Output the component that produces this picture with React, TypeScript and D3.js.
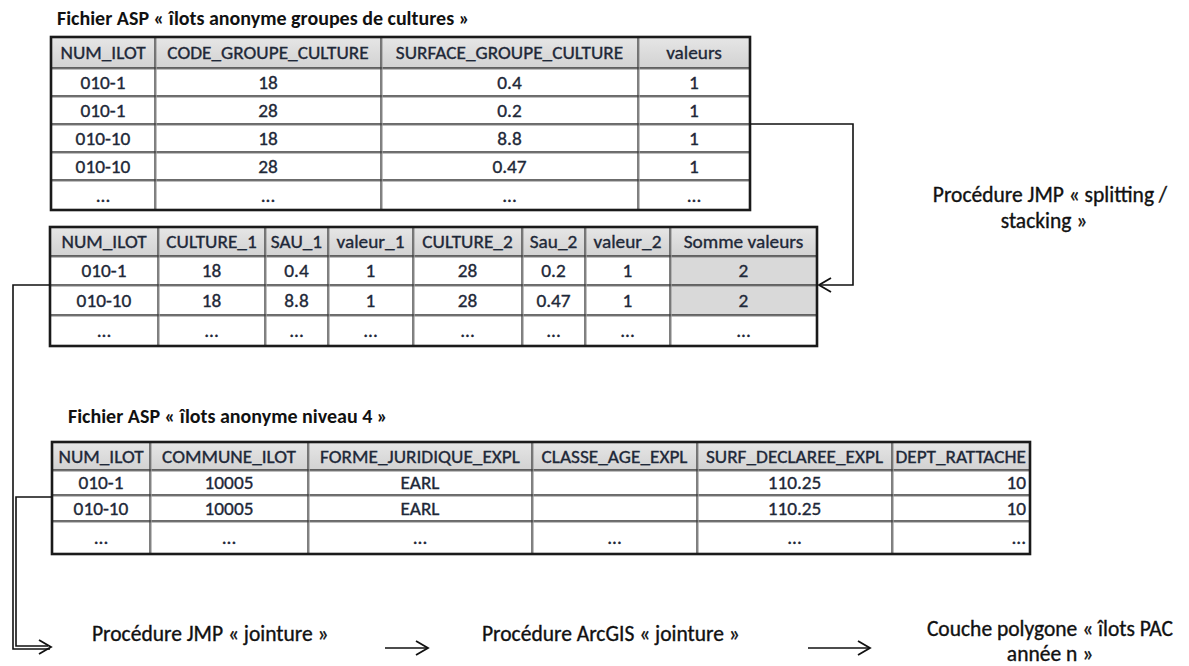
import React from "react";
import * as d3 from "d3";

// ---------- data ----------
const title1 = "Fichier ASP « îlots anonyme groupes de cultures »";
const header1 = ["NUM_ILOT", "CODE_GROUPE_CULTURE", "SURFACE_GROUPE_CULTURE", "valeurs"];
const rows1 = [
  ["010-1", "18", "0.4", "1"],
  ["010-1", "28", "0.2", "1"],
  ["010-10", "18", "8.8", "1"],
  ["010-10", "28", "0.47", "1"],
  ["...", "...", "...", "..."],
];

const header2 = ["NUM_ILOT", "CULTURE_1", "SAU_1", "valeur_1", "CULTURE_2", "Sau_2", "valeur_2", "Somme valeurs"];
const rows2 = [
  ["010-1", "18", "0.4", "1", "28", "0.2", "1", "2"],
  ["010-10", "18", "8.8", "1", "28", "0.47", "1", "2"],
  ["...", "...", "...", "...", "...", "...", "...", "..."],
];

const title3 = "Fichier ASP « îlots anonyme niveau 4 »";
const header3 = ["NUM_ILOT", "COMMUNE_ILOT", "FORME_JURIDIQUE_EXPL", "CLASSE_AGE_EXPL", "SURF_DECLAREE_EXPL", "DEPT_RATTACHE"];
const rows3 = [
  ["010-1", "10005", "EARL", "", "110.25", "10"],
  ["010-10", "10005", "EARL", "", "110.25", "10"],
  ["...", "...", "...", "...", "...", "..."],
];

const labelSplit = ["Procédure JMP « splitting /", "stacking »"];
const labelJoin1 = "Procédure JMP « jointure »";
const labelJoin2 = "Procédure ArcGIS « jointure »";
const labelLayer = ["Couche polygone « îlots PAC", "année n »"];

// ---------- layout ----------
const W = 1189, H = 666;
const FONT = "Carlito, Lato, 'Open Sans', sans-serif";
const TXT = "#1e2838";

type TableSpec = {
  header: string[];
  rows: string[][];
  xs: number[];
  ys: number[];
  align?: ("middle" | "end")[];
  shaded?: (r: number, c: number) => boolean;
};

const t1: TableSpec = {
  header: header1, rows: rows1,
  xs: [51, 155, 381, 638, 750],
  ys: [37, 68, 96, 124, 152, 180, 210],
};
const t2: TableSpec = {
  header: header2, rows: rows2,
  xs: [50, 158, 265, 328, 413, 522, 585, 670, 817],
  ys: [227, 256, 285, 315, 346],
  shaded: (r, c) => c === 7 && r < 2,
};
const t3: TableSpec = {
  header: header3, rows: rows3,
  xs: [52, 150, 308, 532, 697, 892, 1030],
  ys: [442, 470, 495, 521, 554],
  align: ["middle", "middle", "middle", "middle", "middle", "end"],
};

function Table({ spec }: { spec: TableSpec }) {
  const { header, rows, xs, ys } = spec;
  const x0 = xs[0], x1 = xs[xs.length - 1];
  const y0 = ys[0], y1 = ys[ys.length - 1];
  const all = [header, ...rows];
  return (
    <g>
      <defs>
        <linearGradient id="hdr" x1="0" y1="0" x2="0" y2="1">
          <stop offset="0" stopColor="#e6e6e6" />
          <stop offset="1" stopColor="#d2d2d2" />
        </linearGradient>
      </defs>
      <rect x={x0} y={y0} width={x1 - x0} height={ys[1] - y0} fill="url(#hdr)" />
      {rows.map((row, r) =>
        row.map((_, c) =>
          spec.shaded && spec.shaded(r, c) ? (
            <rect key={`s${r}-${c}`} x={xs[c]} y={ys[r + 1]} width={xs[c + 1] - xs[c]} height={ys[r + 2] - ys[r + 1]} fill="#d9d9d9" />
          ) : null
        )
      )}
      {ys.slice(1, -1).map((y, i) => (
        <g key={`h${i}`}>
          <line x1={x0} x2={x1} y1={y} y2={y} stroke="#3a3a3a" strokeWidth={1.3} />
          <line x1={x0} x2={x1} y1={y + 1.3} y2={y + 1.3} stroke="#9a9a9a" strokeWidth={0.8} />
        </g>
      ))}
      {xs.slice(1, -1).map((x, i) => (
        <g key={`v${i}`}>
          <line x1={x} x2={x} y1={y0} y2={y1} stroke="#3a3a3a" strokeWidth={1.3} />
          <line x1={x + 1.3} x2={x + 1.3} y1={y0} y2={y1} stroke="#a0a0a0" strokeWidth={0.8} />
        </g>
      ))}
      <rect x={x0} y={y0} width={x1 - x0} height={y1 - y0} fill="none" stroke="#1a1a1a" strokeWidth={2.6} />
      {all.map((row, r) =>
        row.map((txt, c) => {
          const al = spec.align ? spec.align[c] : "middle";
          const cx = al === "end" ? xs[c + 1] - 4 : (xs[c] + xs[c + 1]) / 2;
          const cy = (ys[r] + ys[r + 1]) / 2;
          return (
            <text key={`t${r}-${c}`} x={cx} y={cy} dy="0.36em" textAnchor={al}
              fontFamily={FONT} fontSize={19.3} fill={TXT} stroke={TXT} strokeWidth={0.35}>
              {txt}
            </text>
          );
        })
      )}
    </g>
  );
}

function Arrowhead({ x, y, dir }: { x: number; y: number; dir: 1 | -1 }) {
  const line = d3.line<[number, number]>();
  const d = line([[x - dir * 12, y - 7], [x, y], [x - dir * 12, y + 7]]) || "";
  return <path d={d} fill="none" stroke="#111" strokeWidth={1.8} />;
}

function Connector({ pts }: { pts: [number, number][] }) {
  const d = d3.line<[number, number]>()(pts) || "";
  return <path d={d} fill="none" stroke="#111" strokeWidth={1.6} />;
}

export default function App() {
  const lbl = { fontFamily: FONT, fontSize: 21.5, fill: "#111", stroke: "#111", strokeWidth: 0.35 } as const;
  return (
    <svg width={W} height={H} viewBox={`0 0 ${W} ${H}`} style={{ display: "block", position: "absolute", left: 0, top: 0, background: "#fff" }}>
      <rect width={W} height={H} fill="#fff" />
      <text x={57} y={25} fontFamily={FONT} fontSize={20} fontWeight={700} fill="#111">{title1}</text>
      <Table spec={t1} />
      <Table spec={t2} />
      <text x={68} y={423} fontFamily={FONT} fontSize={20} fontWeight={700} fill="#111">{title3}</text>
      <Table spec={t3} />

      <Connector pts={[[750, 124], [853, 124], [853, 285], [819, 285]]} />
      <Arrowhead x={819} y={285} dir={-1} />
      <text x={1050} y={202} textAnchor="middle" {...lbl}>{labelSplit[0]}</text>
      <text x={1044} y={228} textAnchor="middle" {...lbl}>{labelSplit[1]}</text>

      <Connector pts={[[50, 285], [13, 285], [13, 649], [50, 649]]} />
      <Connector pts={[[52, 497], [16, 497], [16, 646], [48, 646]]} />
      <Arrowhead x={51} y={647} dir={1} />

      <text x={92} y={641} {...lbl}>{labelJoin1}</text>
      <Connector pts={[[385, 648], [428, 648]]} />
      <Arrowhead x={428} y={648} dir={1} />
      <text x={482} y={641} {...lbl}>{labelJoin2}</text>
      <Connector pts={[[808, 648], [870, 648]]} />
      <Arrowhead x={870} y={648} dir={1} />
      <text x={1050} y={636} textAnchor="middle" {...lbl}>{labelLayer[0]}</text>
      <text x={1050} y={661} textAnchor="middle" {...lbl}>{labelLayer[1]}</text>
    </svg>
  );
}
